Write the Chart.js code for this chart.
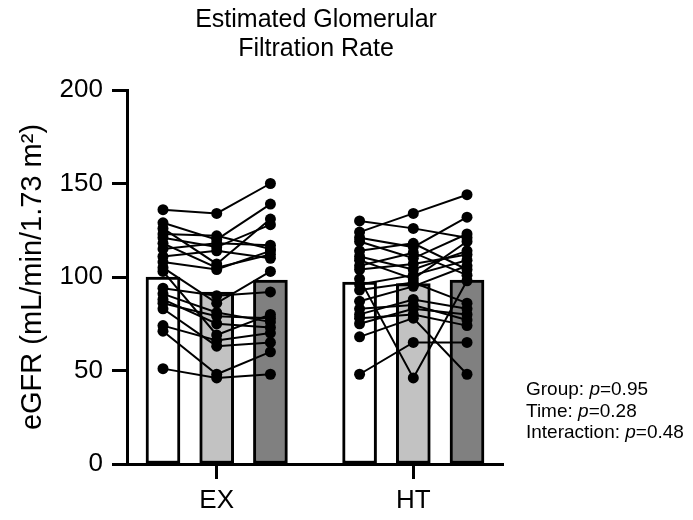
<!DOCTYPE html>
<html>
<head>
<meta charset="utf-8">
<script src="https://cdn.jsdelivr.net/npm/chart.js@4"></script>
<style>
  body { margin: 0; background: #fff; }
  #wrap { position: relative; width: 693px; height: 520px; font-family: 'Liberation Sans', Arial, sans-serif; color: #000; }
  #title { position: absolute; left: 116px; top: 4px; width: 400px; text-align: center; font-size: 25px; line-height: 29px; }
  #stats { position: absolute; left: 526px; top: 378px; font-size: 19px; line-height: 21.7px; white-space: nowrap; }
</style>
</head>
<body>
<div id="wrap">
  <canvas id="chart" width="693" height="520"></canvas>
  <div id="title">Estimated Glomerular<br>Filtration Rate</div>
  <div id="stats">Group: <i>p</i>=0.95<br>Time: <i>p</i>=0.28<br>Interaction: <i>p</i>=0.48</div>
</div>
<script>
const groups = ['EX', 'HT'];
const yTicks = [0, 50, 100, 150, 200];

// bar heights (group means) for the three time points
const exMeans = [100, 92, 98.3];
const htMeans = [97.3, 96.5, 98.3];

// individual subjects, [time1, time2, time3]
const exSubjects = [
    [136, 134, 150], [129, 120, 139], [126, 107, 131], [123, 122, 115],
    [121, 116, 128], [118, 105, 112], [115, 118, 117], [111, 114, 110],
    [108, 104, 114], [105, 86, 103], [103, 69, 80], [94, 90, 92],
    [91, 81, 76], [88, 75, 73], [86, 79, 78], [83, 63, 65],
    [74, 66, 70], [71, 48, 60], [51, 46, 48]
];
const htSubjects = [
    [130, 126, 121], [124, 134, 144], [121, 116, 132], [119, 110, 123],
    [114, 118, 104], [111, 104, 114], [109, 99, 119], [106, 113, 101],
    [104, 107, 112], [99, 46, 98], [96, 101, 109], [93, 97, 86],
    [87, 95, 106], [83, 85, 77], [80, 88, 83], [78, 80, 74],
    [75, 83, 80], [68, 78, 48], [48, 65, 65]
];

// x positions of the time points inside each group
const exX = [0.67, 1.67, 2.67];
const htX = [4.33, 5.33, 6.33];
const groupX = [1.67, 5.33];
const barColors = ['#ffffff', '#c2c2c2', '#808080'];

Chart.defaults.font.family = "'Liberation Sans', Arial, sans-serif";
Chart.defaults.color = '#000';

const barData = exMeans.map((v, i) => ({ x: exX[i], y: v }))
    .concat(htMeans.map((v, i) => ({ x: htX[i], y: v })));

const lineSets = [];
function addSubjects(subjects, xs) {
    subjects.forEach(s => {
        lineSets.push({
            type: 'line',
            data: s.map((v, i) => ({ x: xs[i], y: v })),
            borderColor: '#000',
            borderWidth: 2,
            pointRadius: 5.5,
            pointBackgroundColor: '#000',
            pointBorderColor: '#000',
            pointBorderWidth: 0,
            order: 0
        });
    });
}
addSubjects(exSubjects, exX);
addSubjects(htSubjects, htX);

new Chart(document.getElementById('chart'), {
    type: 'bar',
    data: {
        datasets: [{
            data: barData,
            backgroundColor: barColors.concat(barColors),
            borderColor: '#000',
            borderWidth: 3,
            borderSkipped: false,
            barThickness: 34,
            order: 1
        }].concat(lineSets)
    },
    options: {
        responsive: false,
        animation: false,
        layout: { padding: { top: 90, right: 190, left: 0, bottom: 0 } },
        plugins: { legend: { display: false }, tooltip: { enabled: false } },
        scales: {
            x: {
                type: 'linear',
                min: 0,
                max: 7,
                offset: false,
                afterFit: s => { s.height = 56; },
                afterBuildTicks: axis => { axis.ticks = groupX.map(v => ({ value: v })); },
                ticks: {
                    autoSkip: false,
                    maxRotation: 0,
                    padding: 6,
                    font: { size: 26 },
                    callback: (v, i) => groups[i]
                },
                grid: { drawOnChartArea: false, offset: false, tickLength: 15, tickWidth: 3, tickColor: '#000' },
                border: { display: true, width: 3, color: '#000' }
            },
            y: {
                min: 0,
                max: 200,
                afterFit: s => { s.width = 127; },
                afterBuildTicks: axis => { axis.ticks = yTicks.map(v => ({ value: v })); },
                ticks: { padding: 9, font: { size: 26 } },
                grid: { drawOnChartArea: false, tickLength: 15, tickWidth: 3, tickColor: '#000' },
                border: { display: true, width: 3, color: '#000' },
                title: {
                    display: true,
                    text: 'eGFR (mL/min/1.73 m²)',
                    font: { size: 29 },
                    padding: { top: 16, bottom: 0 }
                }
            }
        }
    }
});
</script>
</body>
</html>
